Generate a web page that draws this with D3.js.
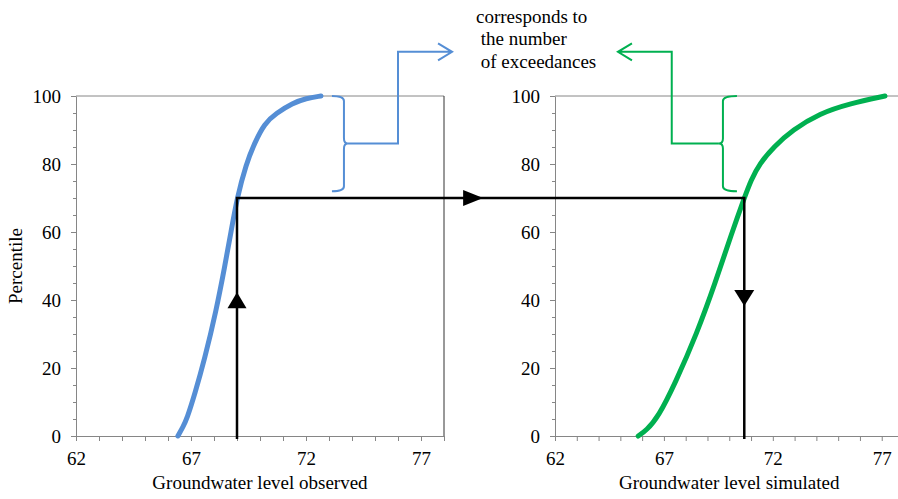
<!DOCTYPE html>
<html>
<head>
<meta charset="utf-8">
<script src="https://cdn.jsdelivr.net/npm/d3@7"></script>
<style>
  body { margin: 0; background: #fff; }
  svg { display: block; }
  text { font-family: "Liberation Serif", "Times New Roman", serif; font-size: 19px; fill: #000; }
</style>
</head>
<body>
<div id="chart"></div>
<script>
// observed cumulative distribution (left panel)
const obsLevel = [66.43, 66.65, 66.82, 67.17, 67.58, 68.1, 68.47, 68.74, 69.0, 69.4, 69.75, 70.2, 70.7, 71.42, 72.0, 72.65];
const obsPct   = [0, 2.7, 5, 12.5, 22.3, 37, 50, 60, 70, 80, 86, 92, 94.9, 97.9, 99.3, 100];

// simulated cumulative distribution (right panel)
const simLevel = [65.82, 66.2, 66.74, 67.51, 68.51, 69.35, 70.11, 70.69, 71.0, 71.4, 72.05, 72.9, 74.15, 75.55, 77.15];
const simPct   = [0, 1.7, 5.6, 15.4, 30.1, 44.9, 59.6, 70, 75.3, 80.2, 85.1, 90, 94.9, 97.8, 100];

const xTickValues = [62, 67, 72, 77];
const yTickValues = [0, 20, 40, 60, 80, 100];
const xTitles = ["Groundwater level observed", "Groundwater level simulated"];
const yTitle = "Percentile";
const noteLines = ["corresponds to", " the number", " of exceedances"];

// the mapped percentile and its levels in both distributions
const mapPct = 70;
const mapObs = 69.0;
const mapSim = 70.69;
// range of exceedances marked by the braces
const braceTop = 100, braceBottom = 72;

const W = 898, H = 499;
const svg = d3.select("#chart").append("svg")
    .attr("width", W)
    .attr("height", H);

const y = d3.scaleLinear().domain([0, 100]).range([436, 96]);

const panels = [
    { x: d3.scaleLinear().domain([62, 78]).range([76, 444]), level: obsLevel, pct: obsPct, color: "#558ed5", rightBorder: true },
    { x: d3.scaleLinear().domain([62, 78]).range([555, 903.5]), level: simLevel, pct: simPct, color: "#00b050", rightBorder: false }
];

const axisGray = "#868686";
const serif = "'Liberation Serif', 'Times New Roman', serif";

panels.forEach(function(p, k) {
    let g = svg.append("g");
    let x = p.x;
    let [x0, x1] = x.range();

    // top + right frame
    g.append("line").attr("x1", x0).attr("x2", x1).attr("y1", y(100)).attr("y2", y(100))
        .attr("stroke", axisGray).attr("stroke-width", 1);
    if (p.rightBorder) {
        g.append("line").attr("x1", x1).attr("x2", x1).attr("y1", y(100)).attr("y2", y(0))
            .attr("stroke", "#333").attr("stroke-width", 1);
    }

    // x axis: minor ticks each unit, labels on majors
    let xAxis = d3.axisBottom(x)
        .tickValues(d3.range(62, 79, 1))
        .tickSize(5)
        .tickSizeOuter(0)
        .tickFormat(d => xTickValues.includes(d) ? d : "");
    let gx = g.append("g").attr("transform", "translate(0," + y(0) + ")").call(xAxis);
    gx.select(".domain").attr("stroke", axisGray);
    gx.selectAll(".tick line").attr("stroke", axisGray);
    gx.selectAll(".tick text").attr("dy", null).attr("y", 29).style("font-size", "19px")
        .style("font-family", serif).attr("fill", "#000");

    // y axis: minor every 5, major every 20
    let yMinor = d3.axisLeft(y).tickValues(d3.range(0, 101, 5)).tickSize(3).tickSizeOuter(0).tickFormat("");
    let gym = g.append("g").attr("transform", "translate(" + x0 + ",0)").call(yMinor);
    gym.select(".domain").attr("stroke", axisGray);
    gym.selectAll(".tick line").attr("stroke", axisGray);

    let yAxis = d3.axisLeft(y).tickValues(yTickValues).tickSize(5).tickSizeOuter(0).tickPadding(10);
    let gy = g.append("g").attr("transform", "translate(" + x0 + ",0)").call(yAxis);
    gy.select(".domain").remove();
    gy.selectAll(".tick line").attr("stroke", axisGray);
    gy.selectAll(".tick text").style("font-size", "19px")
        .style("font-family", serif).attr("fill", "#000");

    // axis title
    g.append("text")
        .attr("x", (x0 + x1) / 2)
        .attr("y", 489)
        .attr("text-anchor", "middle")
        .text(xTitles[k]);

    // distribution curve
    let line = d3.line()
        .x(d => x(d[0]))
        .y(d => y(d[1]))
        .curve(d3.curveBasis);
    g.append("path")
        .datum(d3.zip(p.level, p.pct))
        .attr("d", line)
        .attr("fill", "none")
        .attr("stroke", p.color)
        .attr("stroke-width", 5)
        .attr("stroke-linecap", "round");
});

svg.append("text")
    .attr("transform", "translate(22," + y(50) + ") rotate(-90)")
    .attr("text-anchor", "middle")
    .text(yTitle);

// ---- annotations ----
const xo = panels[0].x, xs = panels[1].x;

function tri(tipX, tipY, dir, len, half) {
    // dir: "up" | "down" | "right"
    if (dir === "up") return "M" + tipX + "," + tipY + "L" + (tipX - half) + "," + (tipY + len) + "L" + (tipX + half) + "," + (tipY + len) + "Z";
    if (dir === "down") return "M" + tipX + "," + tipY + "L" + (tipX - half) + "," + (tipY - len) + "L" + (tipX + half) + "," + (tipY - len) + "Z";
    return "M" + tipX + "," + tipY + "L" + (tipX - len) + "," + (tipY - half) + "L" + (tipX - len) + "," + (tipY + half) + "Z";
}

// brace: side = 1 for "}" (tip right), -1 for "{" (tip left)
function brace(bx, yTop, yBot, side, hook, tip) {
    let yMid = (yTop + yBot) / 2, r = 5;
    let hx = bx - side * hook;
    return "M" + hx + "," + yTop +
        "Q" + bx + "," + yTop + " " + bx + "," + (yTop + r) +
        "L" + bx + "," + (yMid - r) +
        "Q" + bx + "," + yMid + " " + (bx + side * tip) + "," + yMid +
        "Q" + bx + "," + yMid + " " + bx + "," + (yMid + r) +
        "L" + bx + "," + (yBot - r) +
        "Q" + bx + "," + yBot + " " + hx + "," + yBot;
}

let ann = svg.append("g");

// blue brace and elbow arrow to the note
let bTopY = y(braceTop), bBotY = y(braceBottom), bMidY = (bTopY + bBotY) / 2;
let bx = xo(73.65);
ann.append("path").attr("d", brace(bx, bTopY, bBotY, 1, 12, 4))
    .attr("fill", "none").attr("stroke", panels[0].color).attr("stroke-width", 2);
let elbowY = y(113);
let bTip = xo(78.35);
ann.append("path")
    .attr("d", "M" + (bx + 4) + "," + bMidY + "L" + xo(76) + "," + bMidY + "L" + xo(76) + "," + elbowY + "L" + bTip + "," + elbowY +
        "M" + (bTip - 14) + "," + (elbowY - 8.5) + "L" + bTip + "," + elbowY + "L" + (bTip - 14) + "," + (elbowY + 8.5))
    .attr("fill", "none").attr("stroke", panels[0].color).attr("stroke-width", 2);

// green brace and elbow arrow to the note
let gx0 = xs(69.71);
ann.append("path").attr("d", brace(gx0, bTopY, bBotY, -1, 14, 4))
    .attr("fill", "none").attr("stroke", panels[1].color).attr("stroke-width", 2);
let gTip = xs(64.89);
ann.append("path")
    .attr("d", "M" + (gx0 - 4) + "," + bMidY + "L" + xs(67.36) + "," + bMidY + "L" + xs(67.36) + "," + elbowY + "L" + gTip + "," + elbowY +
        "M" + (gTip + 14) + "," + (elbowY - 8.5) + "L" + gTip + "," + elbowY + "L" + (gTip + 14) + "," + (elbowY + 8.5))
    .attr("fill", "none").attr("stroke", panels[1].color).attr("stroke-width", 2);

// note text
let note = ann.append("text").attr("x", 476).attr("y", 23);
noteLines.forEach(function(t, i) {
    note.append("tspan").attr("x", 476).attr("y", 23 + i * 22.3).style("white-space", "pre").text(t);
});

// black mapping path: up from observed, across, down to simulated
ann.append("path")
    .attr("d", "M" + xo(mapObs) + "," + (y(0) + 3) + "L" + xo(mapObs) + "," + y(mapPct) + "L" + xs(mapSim) + "," + y(mapPct) + "L" + xs(mapSim) + "," + (y(0) + 3))
    .attr("fill", "none").attr("stroke", "#000").attr("stroke-width", 2.5);

ann.append("path").attr("d", tri(xo(mapObs), y(42.3), "up", 16, 9.5)).attr("fill", "#000");
ann.append("path").attr("d", tri(xo(79.7), y(mapPct), "right", 20, 8)).attr("fill", "#000");
ann.append("path").attr("d", tri(xs(mapSim), y(38.2), "down", 16, 10)).attr("fill", "#000");
</script>
</body>
</html>
